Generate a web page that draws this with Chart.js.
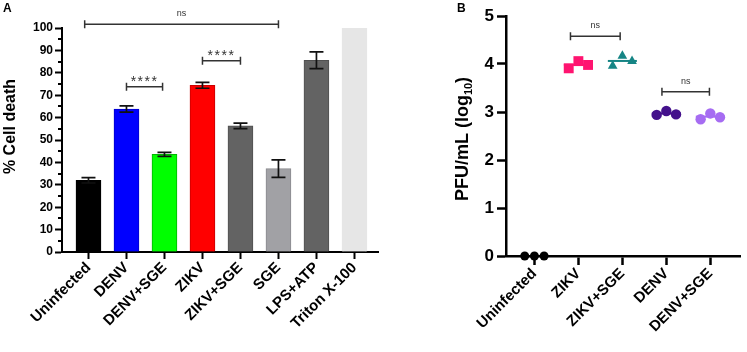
<!DOCTYPE html>
<html>
<head>
<meta charset="utf-8">
<script src="https://cdn.jsdelivr.net/npm/chart.js@4.4.0/dist/chart.umd.min.js"></script>
<style>
  html, body { margin: 0; padding: 0; background: #fff; }
  #wrap { position: relative; width: 747px; height: 352px; overflow: hidden; }
  #boxA { position: absolute; left: 0; top: 0; width: 400px; height: 352px; }
  #boxB { position: absolute; left: 420px; top: 0; width: 327px; height: 352px; }
</style>
</head>
<body>
<div id="wrap">
  <div id="boxA"><canvas id="chartA" width="400" height="352"></canvas></div>
  <div id="boxB"><canvas id="chartB" width="327" height="352"></canvas></div>
</div>
<script>
// --- Panel A: % cell death ---
const groupsA = ['Uninfected', 'DENV', 'DENV+SGE', 'ZIKV', 'ZIKV+SGE', 'SGE', 'LPS+ATP', 'Triton X-100'];
const deathA = [32.0, 63.8, 43.6, 74.4, 56.3, 37.2, 85.6, 100];
const errA = [1.2, 1.4, 0.9, 1.3, 1.2, 3.9, 3.7, 0];
const colorsA = ['#000000', '#0000ff', '#00ff00', '#ff0000', '#636363', '#a1a1a5', '#636363', '#e6e6e6'];
const edgeA = ['#000000', '#0000c8', '#00b400', '#c80000', '#505050', '#8a8a8e', '#505050', '#e6e6e6'];
const ticksA = [0, 10, 20, 30, 40, 50, 60, 70, 80, 90, 100];

// significance brackets in A (category index from/to, y level)
const sigTextA = ['ns', '****', '****'];
const sigFromA = [-0.1, 1, 3];
const sigToA = [5, 1.95, 4];
const sigLevelA = [101.7, 73.8, 85.4];

// --- Panel B: PFU/mL (log10) ---
const groupsB = ['Uninfected', 'ZIKV', 'ZIKV+SGE', 'DENV', 'DENV+SGE'];
const pfuUninfected = [0, 0, 0];
const pfuZikv = [3.91, 4.06, 3.98];
const pfuZikvSge = [3.96, 4.17, 4.06];
const pfuDenv = [2.94, 3.02, 2.95];
const pfuDenvSge = [2.85, 2.97, 2.89];
const ticksB = [0, 1, 2, 3, 4, 5];

const sigTextB = ['ns', 'ns'];
const sigFromB = [0.82, 2.9];
const sigToB = [1.95, 3.98];
const sigLevelB = [4.58, 3.42];

const pfuB = [pfuUninfected, pfuZikv, pfuZikvSge, pfuDenv, pfuDenvSge];
const colorsB = ['#000000', '#ff1470', '#168585', '#44118c', '#a66cf2'];
const shapesB = ['circle', 'rect', 'triangle', 'circle', 'circle'];
const radiusB = [4.5, 7, 5.6, 5.2, 5.2];
const JITTER = [-0.22, 0, 0.22];

const FONT = "'Liberation Sans', Arial, sans-serif";

function drawBracket(ctx, x1, x2, yy, label, bigStars) {
    ctx.strokeStyle = '#333';
    ctx.lineWidth = 1.5;
    ctx.beginPath();
    ctx.moveTo(x1, yy); ctx.lineTo(x2, yy);
    ctx.moveTo(x1, yy - 4); ctx.lineTo(x1, yy + 4);
    ctx.moveTo(x2, yy - 4); ctx.lineTo(x2, yy + 4);
    ctx.stroke();
    ctx.fillStyle = '#333';
    ctx.textAlign = 'center';
    ctx.textBaseline = 'alphabetic';
    if (bigStars) {
        ctx.font = '14px ' + FONT;
        ctx.letterSpacing = '1.5px';
        ctx.fillText(label, (x1 + x2) / 2, yy - 1);
        ctx.letterSpacing = '0px';
    } else {
        ctx.font = '9px ' + FONT;
        ctx.fillText(label, (x1 + x2) / 2, yy - 8);
    }
}

// sem padding extra por causa dos rótulos girados
function fixX(height) {
    return s => {
        s.height = height;
        s.paddingLeft = 0;
        s.paddingRight = 0;
    };
}

// Plugin do painel A: barras de erro, ticks menores, colchetes e títulos
const extrasA = {
    id: 'extrasA',
    afterDatasetsDraw(chart) {
        const { ctx, scales: { x, y } } = chart;
        ctx.save();
        ctx.strokeStyle = '#111';
        ctx.lineWidth = 1.7;
        deathA.forEach((v, i) => {
            if (!errA[i]) return;
            const px = x.getPixelForValue(i);
            const top = y.getPixelForValue(v + errA[i]);
            const bot = y.getPixelForValue(v - errA[i]);
            ctx.beginPath();
            ctx.moveTo(px, top); ctx.lineTo(px, bot);
            ctx.moveTo(px - 7, top); ctx.lineTo(px + 7, top);
            ctx.moveTo(px - 7, bot); ctx.lineTo(px + 7, bot);
            ctx.stroke();
        });
        ctx.restore();
    },
    afterDraw(chart) {
        const { ctx, scales: { x, y } } = chart;
        ctx.save();
        // ticks menores (a cada 5)
        ctx.strokeStyle = '#000';
        ctx.lineWidth = 2;
        for (let v = 5; v < 100; v += 10) {
            const py = Math.round(y.getPixelForValue(v));
            ctx.beginPath();
            ctx.moveTo(y.right - 4, py); ctx.lineTo(y.right, py);
            ctx.stroke();
        }
        // colchetes de significância
        sigTextA.forEach((t, i) => {
            drawBracket(ctx, x.getPixelForValue(sigFromA[i]), x.getPixelForValue(sigToA[i]),
                y.getPixelForValue(sigLevelA[i]), t, t !== 'ns');
        });
        // título do eixo y
        ctx.fillStyle = '#000';
        ctx.font = 'bold 16px ' + FONT;
        ctx.textAlign = 'center';
        ctx.textBaseline = 'middle';
        ctx.translate(11, 126.5);
        ctx.rotate(-Math.PI / 2);
        ctx.fillText('% Cell death', 0, 0);
        ctx.restore();
        // letra do painel
        ctx.save();
        ctx.fillStyle = '#000';
        ctx.font = 'bold 12px ' + FONT;
        ctx.textAlign = 'left';
        ctx.textBaseline = 'alphabetic';
        ctx.fillText('A', 3, 12);
        ctx.restore();
    }
};

const extrasB = {
    id: 'extrasB',
    beforeDatasetsDraw(chart) {
        const { ctx, scales: { x, y } } = chart;
        ctx.save();
        ctx.lineWidth = 2;
        pfuB.forEach((vals, i) => {
            const mean = vals.reduce((a, b) => a + b, 0) / vals.length;
            const py = y.getPixelForValue(mean);
            ctx.strokeStyle = colorsB[i];
            ctx.beginPath();
            ctx.moveTo(x.getPixelForValue(i - 0.33), py);
            ctx.lineTo(x.getPixelForValue(i + 0.33), py);
            ctx.stroke();
        });
        ctx.restore();
    },
    afterDraw(chart) {
        const { ctx, scales: { x, y } } = chart;
        ctx.save();
        sigTextB.forEach((t, i) => {
            drawBracket(ctx, x.getPixelForValue(sigFromB[i]), x.getPixelForValue(sigToB[i]),
                y.getPixelForValue(sigLevelB[i]), t, false);
        });
        // título do eixo y com subscrito
        const main = 'PFU/mL (log';
        const sub = '10';
        const end = ')';
        ctx.fillStyle = '#000';
        ctx.textBaseline = 'alphabetic';
        ctx.textAlign = 'left';
        ctx.font = 'bold 18px ' + FONT;
        const w1 = ctx.measureText(main).width;
        const w3 = ctx.measureText(end).width;
        ctx.font = 'bold 11px ' + FONT;
        const w2 = ctx.measureText(sub).width;
        const total = w1 + w2 + w3;
        ctx.translate(48, 139);
        ctx.rotate(-Math.PI / 2);
        let cx = -total / 2;
        ctx.font = 'bold 18px ' + FONT;
        ctx.fillText(main, cx, 0);
        cx += w1;
        ctx.font = 'bold 11px ' + FONT;
        ctx.fillText(sub, cx, 4);
        cx += w2;
        ctx.font = 'bold 18px ' + FONT;
        ctx.fillText(end, cx, 0);
        ctx.restore();
        ctx.save();
        ctx.fillStyle = '#000';
        ctx.font = 'bold 12px ' + FONT;
        ctx.fillText('B', 37, 12);
        ctx.restore();
    }
};

document.addEventListener('DOMContentLoaded', function () {

    new Chart(document.getElementById('chartA'), {
        type: 'bar',
        data: {
            datasets: [{
                data: deathA.map((v, i) => ({ x: i, y: v })),
                backgroundColor: colorsA,
                borderColor: edgeA,
                borderWidth: 1,
                barThickness: 25
            }]
        },
        options: {
            responsive: false,
            animation: false,
            layout: { padding: { top: 28, right: 22, left: 0, bottom: 0 } },
            plugins: { legend: { display: false }, tooltip: { enabled: false } },
            scales: {
                x: {
                    type: 'linear',
                    offset: false,
                    min: -0.697,
                    max: 7.62,
                    afterBuildTicks: s => { s.ticks = groupsA.map((g, i) => ({ value: i })); },
                    afterFit: fixX(100),
                    grid: { offset: false, drawOnChartArea: false, tickLength: 7, tickWidth: 2, tickColor: '#000' },
                    border: { color: '#000', width: 2 },
                    ticks: {
                        autoSkip: false,
                        minRotation: 45,
                        maxRotation: 45,
                        padding: 0,
                        color: '#000',
                        font: { family: FONT, size: 15, weight: 'bold' },
                        callback: v => groupsA[v]
                    }
                },
                y: {
                    min: 0,
                    max: 100,
                    afterBuildTicks: s => { s.ticks = ticksA.map(v => ({ value: v })); },
                    afterFit: s => { s.width = 62; },
                    grid: { drawOnChartArea: false, tickLength: 7, tickWidth: 2, tickColor: '#000' },
                    border: { color: '#000', width: 2 },
                    ticks: {
                        padding: 2,
                        color: '#000',
                        font: { family: FONT, size: 12, weight: 'bold' }
                    }
                }
            }
        },
        plugins: [extrasA]
    });

    new Chart(document.getElementById('chartB'), {
        type: 'scatter',
        data: {
            datasets: groupsB.map((g, i) => ({
                label: g,
                data: pfuB[i].map((v, k) => ({ x: i + JITTER[k], y: v })),
                pointStyle: shapesB[i],
                pointRadius: radiusB[i],
                backgroundColor: colorsB[i],
                borderColor: colorsB[i],
                borderWidth: 0,
                clip: false
            }))
        },
        options: {
            responsive: false,
            animation: false,
            layout: { padding: { top: 16, right: 2, left: 0, bottom: 0 } },
            plugins: { legend: { display: false }, tooltip: { enabled: false } },
            scales: {
                x: {
                    type: 'linear',
                    min: -0.646,
                    max: 4.675,
                    afterBuildTicks: s => { s.ticks = groupsB.map((g, i) => ({ value: i })); },
                    afterFit: fixX(96),
                    grid: { drawOnChartArea: false, tickLength: 9, tickWidth: 2.5, tickColor: '#000' },
                    border: { color: '#000', width: 2.5 },
                    ticks: {
                        autoSkip: false,
                        minRotation: 45,
                        maxRotation: 45,
                        padding: 0,
                        color: '#000',
                        font: { family: FONT, size: 15, weight: 'bold' },
                        callback: v => groupsB[v]
                    }
                },
                y: {
                    min: 0,
                    max: 5,
                    afterBuildTicks: s => { s.ticks = ticksB.map(v => ({ value: v })); },
                    afterFit: s => { s.width = 86; },
                    grid: { drawOnChartArea: false, tickLength: 9, tickWidth: 2.5, tickColor: '#000' },
                    border: { color: '#000', width: 2.5 },
                    ticks: {
                        padding: 3,
                        color: '#000',
                        font: { family: FONT, size: 17, weight: 'bold' }
                    }
                }
            }
        },
        plugins: [extrasB]
    });
});
</script>
</body>
</html>
